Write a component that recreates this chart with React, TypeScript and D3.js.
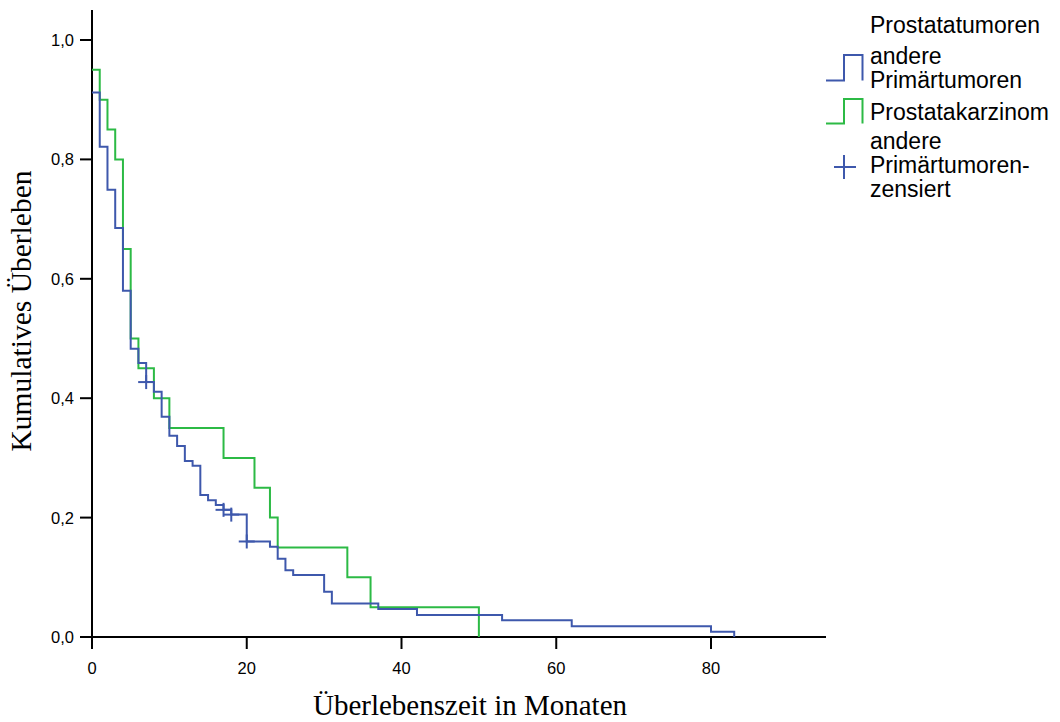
import React from 'react';
import * as d3 from 'd3';

// Kaplan-Meier steps (time in months, survival after the event)
const blueTimes = [0, 1, 2, 3, 4, 5, 6, 7, 8, 9, 10, 11, 12, 13, 14, 15, 16, 17, 18, 20, 23, 24, 25, 26, 30, 31, 37, 42, 53, 62, 80, 83];
const blueSurv = [0.912, 0.821, 0.749, 0.685, 0.58, 0.483, 0.459, 0.427, 0.411, 0.369, 0.337, 0.32, 0.295, 0.287, 0.238, 0.229, 0.221, 0.213, 0.205, 0.16, 0.151, 0.131, 0.112, 0.104, 0.076, 0.056, 0.047, 0.037, 0.028, 0.018, 0.009, 0];

const greenTimes = [0, 1, 2, 3, 4, 5, 6, 8, 10, 17, 21, 23, 24, 33, 36, 50];
const greenSurv = [0.95, 0.9, 0.85, 0.8, 0.65, 0.5, 0.45, 0.4, 0.35, 0.3, 0.25, 0.2, 0.15, 0.1, 0.05, 0];

// censored cases (blue group only)
const censorTimes = [7, 17, 18, 20];
const censorSurv = [0.427, 0.213, 0.205, 0.16];

const xTicks = [0, 20, 40, 60, 80];
const yTicks = [0, 0.2, 0.4, 0.6, 0.8, 1.0];

const legendLabels = [
  ['Prostatatumoren'],
  ['andere', 'Primärtumoren'],
  ['Prostatakarzinom'],
  ['andere', 'Primärtumoren-', 'zensiert'],
];

const BLUE = '#3e58ac';
const GREEN = '#2cba45';

const W = 1060;
const H = 722;
const left = 92;
const right = 826;
const top = 10;
const bottom = 637;

const App = () => {
  const x = d3.scaleLinear().domain([0, 80]).range([left, 711]);
  const y = d3.scaleLinear().domain([0, 1]).range([bottom, 40]);

  const step = d3
    .line<[number, number]>()
    .x(d => x(d[0]))
    .y(d => y(d[1]))
    .curve(d3.curveStepAfter);

  const bluePts = blueTimes.map((t, i) => [t, blueSurv[i]] as [number, number]);
  const greenPts = greenTimes.map((t, i) => [t, greenSurv[i]] as [number, number]);

  const fmt = (v: number) => d3.format('.1f')(v).replace('.', ',');

  const sans = 'Liberation Sans, Arial, sans-serif';
  const serif = 'Liberation Serif, Times New Roman, serif';

  return (
    <div style={{ position: 'absolute', left: 0, top: 0 }}>
      <svg width={W} height={H} style={{ display: 'block', background: '#fff' }}>
        {/* axes */}
        <line x1={left} x2={left} y1={top} y2={bottom + 1} stroke="#000" strokeWidth={2} />
        <line x1={left - 1} x2={right} y1={bottom} y2={bottom} stroke="#000" strokeWidth={2} />
        {yTicks.map(v => (
          <g key={'y' + v}>
            <line x1={left - 12} x2={left} y1={y(v)} y2={y(v)} stroke="#000" strokeWidth={2} />
            <text x={left - 18} y={y(v)} dy="0.36em" textAnchor="end" fontFamily={sans} fontSize={16.5}>
              {fmt(v)}
            </text>
          </g>
        ))}
        {xTicks.map(v => (
          <g key={'x' + v}>
            <line x1={x(v)} x2={x(v)} y1={bottom} y2={bottom + 12} stroke="#000" strokeWidth={2} />
            <text x={x(v)} y={674} textAnchor="middle" fontFamily={sans} fontSize={16.5}>
              {v}
            </text>
          </g>
        ))}
        <text x={470} y={715} textAnchor="middle" fontFamily={serif} fontSize={29}>
          Überlebenszeit in Monaten
        </text>
        <text
          transform={`translate(31,${(170 + 452) / 2}) rotate(-90)`}
          textAnchor="middle"
          fontFamily={serif}
          fontSize={29.5}
        >
          Kumulatives Überleben
        </text>

        {/* curves */}
        <path d={step(greenPts) || ''} fill="none" stroke={GREEN} strokeWidth={2} />
        <path d={step(bluePts) || ''} fill="none" stroke={BLUE} strokeWidth={2} />
        {censorTimes.map((t, i) => (
          <g key={'c' + i} stroke={BLUE} strokeWidth={2}>
            <line x1={x(t) - 8} x2={x(t) + 8} y1={y(censorSurv[i])} y2={y(censorSurv[i])} />
            <line x1={x(t)} x2={x(t)} y1={y(censorSurv[i]) - 7} y2={y(censorSurv[i]) + 7} />
          </g>
        ))}

        {/* legend */}
        <g fontFamily={sans} fontSize={23} fill="#000">
          <text x={870} y={33}>{legendLabels[0][0]}</text>
          <text x={870} y={64}>{legendLabels[1][0]}</text>
          <text x={870} y={88}>{legendLabels[1][1]}</text>
          <text x={870} y={120}>{legendLabels[2][0]}</text>
          <text x={870} y={149}>{legendLabels[3][0]}</text>
          <text x={870} y={173}>{legendLabels[3][1]}</text>
          <text x={870} y={197}>{legendLabels[3][2]}</text>
        </g>
        <path d="M826,80.5H844V55H862.5V80.5" fill="none" stroke={BLUE} strokeWidth={2} />
        <path d="M826,123.5H844V99H862.5V123.5" fill="none" stroke={GREEN} strokeWidth={2} />
        <g stroke={BLUE} strokeWidth={2}>
          <line x1={834} x2={856} y1={167} y2={167} />
          <line x1={844} x2={844} y1={155} y2={179} />
        </g>
      </svg>
    </div>
  );
};

export default App;
